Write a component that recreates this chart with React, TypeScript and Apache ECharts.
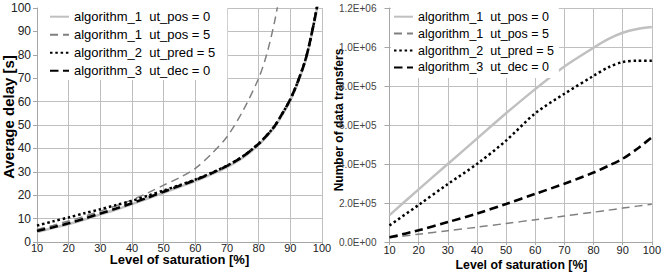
import React, { useEffect, useRef } from "react";
import * as echarts from "echarts";

const seriesNames = [
  "algorithm_1  ut_pos = 0",
  "algorithm_1  ut_pos = 5",
  "algorithm_2  ut_pred = 5",
  "algorithm_3  ut_dec = 0",
];

// Left chart: Average delay [s] vs level of saturation [%]
const delaySaturation = [10, 15, 20, 25, 30, 35, 40, 45, 50, 55, 60, 65, 70, 75, 80, 82.5, 85, 87.5, 90, 92.5, 95, 97.5, 100];
const delayAlg1Pos0 = [4.3, 6.0, 7.6, 9.6, 11.8, 13.9, 16.2, 18.6, 21.0, 23.5, 26.0, 28.9, 32.0, 36.0, 41.5, 45.0, 49.0, 54.5, 60.5, 68.5, 78.5, 93.5, 111];
const delayAlg1Pos5 = [5.3, 7.1, 9.0, 11.0, 13.2, 15.5, 18.0, 21.0, 24.3, 27.5, 31.5, 37.5, 45.0, 56.0, 70.0, 80.0, 94.0, 112, null, null, null, null, null];
const delayAlg2Pred5 = [7.0, 8.8, 10.5, 12.3, 14.0, 15.8, 17.6, 19.8, 22.0, 24.3, 26.7, 29.5, 32.6, 36.6, 42.0, 45.5, 49.5, 55.0, 61.0, 69.0, 79.0, 94.0, 112];
const delayAlg3Dec0 = [4.7, 6.3, 8.0, 10.0, 12.2, 14.3, 16.6, 19.0, 21.5, 24.0, 26.5, 29.3, 32.5, 36.5, 42.0, 45.5, 49.5, 55.0, 61.0, 69.0, 79.0, 94.0, 112];

// Right chart: Number of data transfers vs level of saturation [%]
const transferSaturation = [10, 20, 30, 40, 50, 60, 70, 80, 85, 90, 95, 100];
const transferAlg1Pos0 = [138000, 270000, 400000, 530000, 660000, 784000, 900000, 996000, 1040000, 1073000, 1092000, 1102000];
const transferAlg1Pos5 = [22000, 40000, 58000, 76000, 95000, 114000, 133000, 153000, 163000, 174000, 184000, 194000];
const transferAlg2Pred5 = [85000, 190000, 297000, 400000, 520000, 660000, 760000, 852000, 895000, 923000, 930000, 930000];
const transferAlg3Dec0 = [24000, 60000, 102000, 146000, 195000, 247000, 299000, 356000, 390000, 427000, 478000, 537000];

const FONT = "'Liberation Sans', Arial, sans-serif";
const GRID_COLOR = "#bfbfbf";

const lineStyles = [
  { color: "#c0c0c0", width: 2.5, type: "solid" as any },
  { color: "#808080", width: 1.5, type: [8, 5] as any },
  { color: "#000000", width: 2.5, type: [2.5, 2.8] as any },
  { color: "#000000", width: 2.6, type: [8.5, 4.5] as any },
];

function zip(xs: number[], ys: (number | null)[]) {
  return xs.map((x, i) => [x, ys[i]]);
}

function sci(v: number) {
  const [m, e] = v.toExponential(1).split("e");
  const sign = e[0];
  const digits = e.slice(1).padStart(2, "0");
  return `${m}E${sign}${digits}`;
}

export default function App() {
  const ref = useRef<HTMLDivElement>(null);

  useEffect(() => {
    if (!ref.current) return;
    const chart = echarts.init(ref.current, undefined, { renderer: "svg" });

    const leftSets = [delayAlg1Pos0, delayAlg1Pos5, delayAlg2Pred5, delayAlg3Dec0];
    const rightSets = [transferAlg1Pos0, transferAlg1Pos5, transferAlg2Pred5, transferAlg3Dec0];

    const series: any[] = [];
    leftSets.forEach((d, i) => {
      series.push({
        name: seriesNames[i],
        type: "line",
        xAxisIndex: 0,
        yAxisIndex: 0,
        data: zip(delaySaturation, d),
        symbol: "none",
        smooth: 0.3,
        lineStyle: lineStyles[i],
        itemStyle: { color: lineStyles[i].color },
        clip: true,
      });
    });
    rightSets.forEach((d, i) => {
      series.push({
        name: seriesNames[i],
        type: "line",
        xAxisIndex: 1,
        yAxisIndex: 1,
        data: zip(transferSaturation, d),
        symbol: "none",
        smooth: 0.3,
        lineStyle: lineStyles[i],
        itemStyle: { color: lineStyles[i].color },
        clip: true,
      });
    });

    const axisLine = { show: true, lineStyle: { color: "#a6a6a6", width: 1 } };
    const splitLine = { show: true, lineStyle: { color: GRID_COLOR, width: 1 } };
    const hiddenSymbol = { color: "rgba(0,0,0,0)", borderWidth: 0, opacity: 0 };

    chart.setOption({
      animation: false,
      backgroundColor: "#ffffff",
      textStyle: { fontFamily: FONT },
      grid: [
        { left: 37, top: 8, width: 285, height: 234, containLabel: false },
        { left: 389.5, top: 8, width: 264.5, height: 234, containLabel: false },
      ],
      xAxis: [
        {
          type: "value",
          gridIndex: 0,
          min: 10,
          max: 100,
          interval: 10,
          axisLine,
          axisTick: { show: true, length: 3, lineStyle: { color: "#a6a6a6" } },
          splitLine,
          axisLabel: { fontSize: 11, color: "#222", margin: 0, fontFamily: FONT },
        },
        {
          type: "value",
          gridIndex: 1,
          min: 10,
          max: 100,
          interval: 10,
          axisLine,
          axisTick: { show: true, length: 3, lineStyle: { color: "#a6a6a6" } },
          splitLine,
          axisLabel: { fontSize: 11, color: "#222", margin: 2, fontFamily: FONT },
        },
      ],
      yAxis: [
        {
          type: "value",
          gridIndex: 0,
          min: 0,
          max: 100,
          interval: 10,
          axisLine,
          axisTick: { show: true, length: 4, lineStyle: { color: "#a6a6a6" } },
          splitLine,
          axisLabel: { fontSize: 12, color: "#222", margin: 6, fontFamily: FONT },
        },
        {
          type: "value",
          gridIndex: 1,
          min: 0,
          max: 1200000,
          interval: 200000,
          axisLine,
          axisTick: { show: true, length: 5, lineStyle: { color: "#a6a6a6" } },
          splitLine,
          axisLabel: { fontSize: 10, color: "#444", margin: 13, fontFamily: FONT, formatter: (v: number) => sci(v) },
        },
      ],
      legend: [
        {
          orient: "vertical",
          left: 38,
          top: 8,
          padding: [1.7, 12, 2.3, 11],
          itemGap: 4,
          itemWidth: 19,
          itemHeight: 14,
          backgroundColor: "#ffffff",
          selectedMode: false,
          itemStyle: hiddenSymbol,
          data: seriesNames,
          textStyle: { fontSize: 13, color: "#000", fontFamily: FONT, lineHeight: 14 },
        },
        {
          orient: "vertical",
          left: 391,
          top: 8,
          padding: [1.7, 5, 3.6, 2],
          itemGap: 2.9,
          itemWidth: 19,
          itemHeight: 14,
          backgroundColor: "#ffffff",
          selectedMode: false,
          itemStyle: hiddenSymbol,
          data: seriesNames,
          textStyle: { fontSize: 12.5, color: "#000", fontFamily: FONT, lineHeight: 14 },
        },
      ],
      graphic: [
        {
          type: "text",
          x: 8.5,
          y: 117,
          rotation: Math.PI / 2,
          style: { text: "Average delay [s]", font: `bold 15px ${FONT}`, fill: "#000", textAlign: "center", textVerticalAlign: "middle" },
        },
        {
          type: "text",
          x: 179.5,
          y: 259,
          style: { text: "Level of saturation [%]", font: `bold 13px ${FONT}`, fill: "#000", textAlign: "center", textVerticalAlign: "middle" },
        },
        {
          type: "text",
          x: 338.5,
          y: 120,
          rotation: Math.PI / 2,
          style: { text: "Number of data transfers", font: `bold 12px ${FONT}`, fill: "#000", textAlign: "center", textVerticalAlign: "middle" },
        },
        {
          type: "text",
          x: 521.5,
          y: 265,
          style: { text: "Level of saturation [%]", font: `bold 12.3px ${FONT}`, fill: "#000", textAlign: "center", textVerticalAlign: "middle" },
        },
      ],
      series,
    });

    return () => chart.dispose();
  }, []);

  return (
    <div
      ref={ref}
      style={{ position: "fixed", left: 0, top: 0, width: 664, height: 273, background: "#fff" }}
    />
  );
}
